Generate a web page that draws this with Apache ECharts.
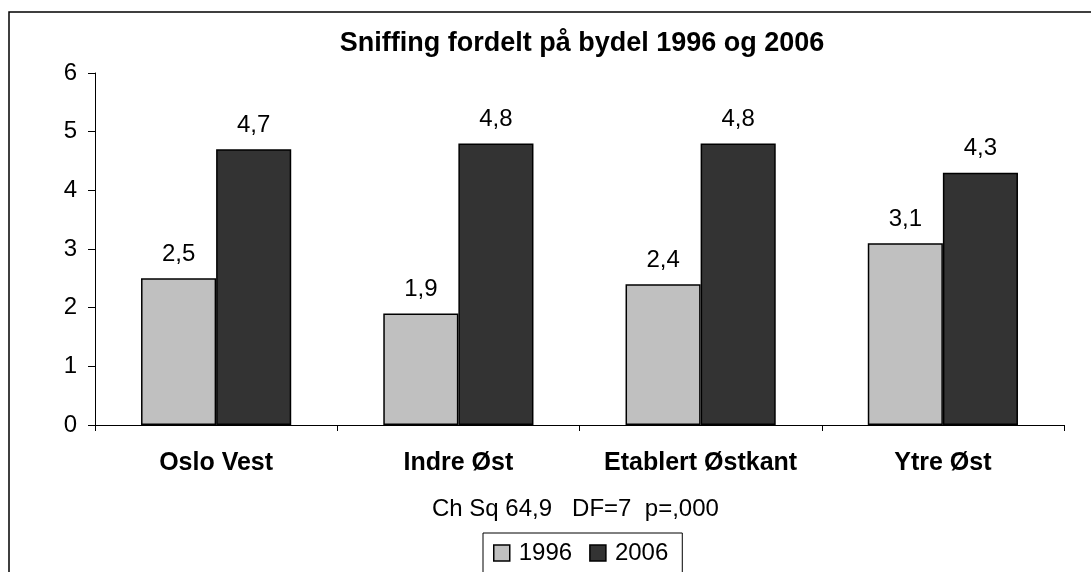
<!DOCTYPE html>
<html>
<head>
<meta charset="utf-8">
<script src="https://cdn.jsdelivr.net/npm/echarts@6/dist/echarts.min.js"></script>
<style>
  html, body { margin: 0; padding: 0; background: #fff; }
  #chart { width: 1091px; height: 572px; }
</style>
</head>
<body>
<div id="chart"></div>
<script>
// data
const categories = ["Oslo Vest", "Indre Øst", "Etablert Østkant", "Ytre Øst"];
const values1996 = [2.5, 1.9, 2.4, 3.1];
const values2006 = [4.7, 4.8, 4.8, 4.3];
const seriesNames = ["1996", "2006"];

const font = "Liberation Sans, Arial, sans-serif";

const chart = echarts.init(document.getElementById("chart"));

const labelCfg = {
  show: true,
  position: "top",
  distance: 12,
  color: "#000",
  fontSize: 24,
  fontFamily: font,
  formatter: (p) => String(p.value).replace(".", ","),
};

const option = {
  backgroundColor: "#fff",
  animation: false,
  title: {
    text: "Sniffing fordelt på bydel 1996 og 2006",
    left: 577,
    textAlign: "center",
    top: 25,
    textStyle: { fontFamily: font, fontSize: 27, fontWeight: "bold", color: "#000" },
  },
  legend: {
    data: seriesNames,
    left: 483,
    top: 533,
    icon: "rect",
    itemWidth: 16,
    itemHeight: 16,
    itemGap: 17,
    padding: [8, 14, 20, 10],
    borderColor: "#000",
    borderWidth: 1,
    itemStyle: { borderColor: "#000", borderWidth: 1.5 },
    textStyle: { fontFamily: font, fontSize: 24, color: "#000", padding: [0, 0, 0, 4] },
  },
  grid: { left: 95, right: 27, top: 73, bottom: 147, containLabel: false },
  xAxis: {
    type: "category",
    data: categories,
    axisLine: { lineStyle: { color: "#000", width: 1 } },
    axisTick: { show: true, interval: 0, length: 6, inside: false, lineStyle: { color: "#000" } },
    axisLabel: {
      interval: 0,
      color: "#000",
      fontFamily: font,
      fontSize: 25,
      fontWeight: "bold",
      margin: 26,
    },
  },
  yAxis: {
    type: "value",
    min: 0,
    max: 6,
    interval: 1,
    axisLine: { show: true, lineStyle: { color: "#000", width: 1 } },
    axisTick: { show: true, length: 7, lineStyle: { color: "#000" } },
    splitLine: { show: false },
    axisLabel: { color: "#000", fontFamily: font, fontSize: 24, margin: 18 },
  },
  series: [
    {
      name: seriesNames[0],
      type: "bar",
      data: values1996,
      barGap: "0%",
      barCategoryGap: "38%",
      itemStyle: { color: "#c0c0c0", borderColor: "#000", borderWidth: 1.5 },
      label: labelCfg,
    },
    {
      name: seriesNames[1],
      type: "bar",
      data: values2006,
      itemStyle: { color: "#333333", borderColor: "#000", borderWidth: 1.5 },
      label: labelCfg,
    },
  ],
  graphic: [
    {
      type: "rect",
      shape: { x: 9, y: 12, width: 1100, height: 600 },
      style: { fill: null, stroke: "#000", lineWidth: 1.5 },
      silent: true,
    },
    {
      type: "text",
      left: 432,
      top: 497,
      style: {
        text: "Ch Sq 64,9   DF=7  p=,000",
        fill: "#000",
        font: "24px " + font,
      },
    },
  ],
};

chart.setOption(option);
</script>
</body>
</html>
